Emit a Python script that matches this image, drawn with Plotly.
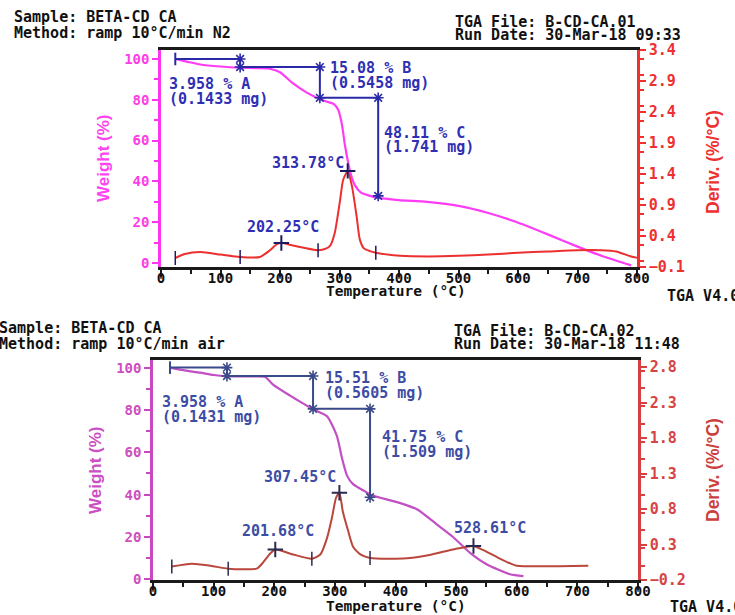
import numpy as np
import plotly.graph_objects as go

# ---------------- data: run 1 (N2) ----------------
top_T = [24, 45, 66, 100, 133, 160, 183, 200, 222, 245, 262, 279, 290, 298, 304, 309, 314,
         319, 326, 336, 350, 363, 400, 447, 500, 550, 595, 650, 700, 745, 790]
top_W = [100, 98.6, 97.3, 96.3, 95.7, 95.5, 95.2, 93.5, 88, 83.5, 81, 79, 78, 75, 68, 58, 50,
         43.5, 38, 34.5, 33, 32, 30.8, 29.9, 28, 24.5, 20.3, 14, 8, 3, -1.2]
top_dT = [24, 40, 66, 100, 133, 166, 183, 195, 203, 220, 240, 264, 278, 284, 292, 301, 306,
          313.78, 321, 329, 334, 341, 350, 361, 402, 450, 500, 550, 600, 650, 700, 740, 765, 790, 800]
top_D = [0.045, 0.11, 0.14, 0.1, 0.06, 0.06, 0.17, 0.27, 0.29, 0.25, 0.21, 0.17, 0.2, 0.24, 0.45,
         0.98, 1.3, 1.45, 1.2, 0.7, 0.35, 0.2, 0.16, 0.13, 0.08, 0.07, 0.08, 0.1, 0.13, 0.15, 0.17,
         0.17, 0.15, 0.07, 0.05]
top_limits_T = [24, 133, 264, 361]
top_peaks_T = [202.25, 313.78]
top_step_T = [24, 133, 267, 365]
top_step_loss = [3.958, 15.08, 48.11]
top_step_mg = [0.1433, 0.5458, 1.741]
top_step_names = ["A", "B", "C"]

# ---------------- data: run 2 (air) ----------------
bot_T = [28, 50, 78, 100, 122, 160, 185, 198, 226, 254, 264, 287, 303, 312, 320, 330, 353,
         358, 408, 436, 468, 495, 523, 551, 589, 611]
bot_W = [100, 98.8, 97.6, 96.5, 95.9, 95.8, 95.6, 92, 86.8, 82, 80.3, 77, 68, 57, 49, 45, 41,
         40, 36, 33, 26, 20, 12.5, 7, 2.4, 1.5]
bot_dT = [31, 64, 95, 124, 171, 181, 193, 201.68, 231, 262, 276, 287, 295, 302, 307.45, 313,
          322, 330, 342, 358, 400, 424, 460, 495, 528.61, 545, 568, 590, 600, 718]
bot_D = [-0.01, 0.03, 0.0, -0.04, -0.04, 0.04, 0.17, 0.23, 0.16, 0.1, 0.16, 0.39, 0.67, 0.96,
         1.03, 0.77, 0.49, 0.27, 0.16, 0.11, 0.1, 0.11, 0.16, 0.23, 0.28, 0.22, 0.12, 0.03, 0.0, 0.0]
bot_limits_T = [31, 124, 262, 358]
bot_peaks_T = [201.68, 307.45, 528.61]
bot_step_T = [28, 122, 264, 358]
bot_step_loss = [3.958, 15.51, 41.75]
bot_step_mg = [0.1431, 0.5605, 1.509]
bot_step_names = ["A", "B", "C"]

x_ticks = [0, 100, 200, 300, 400, 500, 600, 700, 800]
top_right_ticks = [-0.1, 0.4, 0.9, 1.4, 1.9, 2.4, 2.9, 3.4]
bot_right_ticks = [-0.2, 0.3, 0.8, 1.3, 1.8, 2.3, 2.8]
left_ticks = [0, 20, 40, 60, 80, 100]

W, H = 735, 615
MONO = "DejaVu Sans Mono"


def px(x):
    return x / W


def py(y):
    return 1 - y / H


fig = go.Figure()


def add_panel(xa, ya, ya2, T, Wt, dT, D, limits, peaks, stepT, loss,
              wcol, dcol, bcol, mcol):
    xs, ys = "x" + ("" if xa == 1 else str(xa)), "y" + ("" if ya == 1 else str(ya))
    ys2 = "y" + str(ya2)
    fig.add_trace(go.Scatter(x=T, y=Wt, mode="lines", line=dict(color=wcol, width=2.2, shape="spline", smoothing=0.6),
                             xaxis=xs, yaxis=ys, showlegend=False, hoverinfo="skip"))
    fig.add_trace(go.Scatter(x=dT, y=D, mode="lines", line=dict(color=dcol, width=2, shape="spline", smoothing=0.6),
                             xaxis=xs, yaxis=ys2, showlegend=False, hoverinfo="skip"))
    lim_D = np.interp(limits, dT, D)
    fig.add_trace(go.Scatter(x=limits, y=lim_D, mode="markers",
                             marker=dict(symbol="line-ns", size=10, color=mcol, line=dict(color=mcol, width=1.5)),
                             xaxis=xs, yaxis=ys2, showlegend=False, hoverinfo="skip"))
    pk_D = np.interp(peaks, dT, D)
    fig.add_trace(go.Scatter(x=peaks, y=pk_D, mode="markers",
                             marker=dict(symbol="cross-thin", size=11, color=mcol, line=dict(color=mcol, width=2)),
                             xaxis=xs, yaxis=ys2, showlegend=False, hoverinfo="skip"))
    # step-analysis brackets
    levels = [100]
    for l in loss:
        levels.append(levels[-1] - l)
    bx, by = [stepT[0]], [levels[0]]
    for i in range(1, len(stepT)):
        bx += [stepT[i], stepT[i]]
        by += [levels[i - 1], levels[i]]
    fig.add_trace(go.Scatter(x=bx, y=by, mode="lines", line=dict(color=bcol, width=2),
                             xaxis=xs, yaxis=ys, showlegend=False, hoverinfo="skip"))
    fig.add_trace(go.Scatter(x=bx[:1], y=by[:1], mode="markers",
                             marker=dict(symbol="line-ns", size=9, color=bcol, line=dict(color=bcol, width=2)),
                             xaxis=xs, yaxis=ys, showlegend=False, hoverinfo="skip"))
    fig.add_trace(go.Scatter(x=bx[1:], y=by[1:], mode="markers",
                             marker=dict(symbol="asterisk-open", size=9, color=bcol, line=dict(color=bcol, width=1.6)),
                             xaxis=xs, yaxis=ys, showlegend=False, hoverinfo="skip"))


add_panel(1, 1, 2, top_T, top_W, top_dT, top_D, top_limits_T, top_peaks_T, top_step_T, top_step_loss,
          "#ff3cf5", "#ec2f2f", "#2a2aa8", "#1a1a60")
add_panel(2, 3, 4, bot_T, bot_W, bot_dT, bot_D, bot_limits_T, bot_peaks_T, bot_step_T, bot_step_loss,
          "#c24fc4", "#b9473c", "#3a4a8a", "#2a2a50")

tickfont_x = dict(family=MONO, size=14, color="#111111", weight="bold")


def xaxis_cfg(domain, anchor):
    return dict(domain=domain, anchor=anchor, range=[0, 800], tickvals=x_ticks,
                showline=True, linecolor="#1a1a1a", linewidth=2.5, mirror=True,
                ticks="outside", ticklen=7, tickwidth=2, tickcolor="#1a1a1a",
                ticklabelstandoff=-11,
                minor=dict(dtick=50, ticks="outside", ticklen=4, tickcolor="#1a1a1a", tickwidth=1.5),
                showgrid=False, zeroline=False, tickfont=tickfont_x, fixedrange=True,
                automargin=False)


def yleft_cfg(domain, anchor, rng, col, fcol):
    return dict(domain=domain, anchor=anchor, range=rng, tickvals=left_ticks,
                showline=True, linecolor=col, linewidth=2.5, ticks="outside", ticklen=6,
                tickwidth=2, tickcolor=col, automargin=False,
                minor=dict(dtick=10, ticks="outside", ticklen=4, tickcolor=col, tickwidth=1.5),
                showgrid=False, zeroline=False,
                tickfont=dict(family=MONO, size=14, color=fcol, weight="bold"))


def yright_cfg(overlay, anchor, rng, ticks, col, fcol):
    return dict(overlaying=overlay, anchor=anchor, side="right", range=rng, tickvals=ticks,
                showline=True, linecolor=col, linewidth=2.5, ticks="outside", ticklen=6,
                tickwidth=2, tickcolor=col, automargin=False,
                minor=dict(dtick=0.25, ticks="outside", ticklen=4, tickcolor=col, tickwidth=1.5),
                showgrid=False, zeroline=False,
                tickfont=dict(family=MONO, size=15, color=fcol, weight="bold"))


top_xd = [px(161), px(637)]
top_yd = [py(267), py(50)]
bot_xd = [px(153), px(638)]
bot_yd = [py(580), py(360)]

fig.update_layout(
    width=W, height=H, margin=dict(l=0, r=0, t=0, b=0, pad=0, autoexpand=False),
    paper_bgcolor="white", plot_bgcolor="white", showlegend=False,
    xaxis=xaxis_cfg(top_xd, "y"),
    yaxis=yleft_cfg(top_yd, "x", [-2, 104.4], "#ff33f2", "#ff3ce6"),
    yaxis2=yright_cfg("y", "x", [-0.1, 3.4], top_right_ticks, "#ee3030", "#ee3030"),
    xaxis2=xaxis_cfg(bot_xd, "y3"),
    yaxis3=yleft_cfg(bot_yd, "x2", [-0.3, 103.6], "#c848c0", "#cc4fbf"),
    yaxis4=yright_cfg("y3", "x2", [-0.2, 2.9], bot_right_ticks, "#d64040", "#d64343"),
)

ann = []


def txt(x, y, s, color="#111111", size=15, xanchor="left", angle=0, family=MONO):
    ann.append(dict(x=px(x), y=py(y), xref="paper", yref="paper", text=s, showarrow=False,
                    xanchor=xanchor, yanchor="middle", textangle=angle,
                    font=dict(family=family, size=size, color=color, weight="bold")))


# header texts
txt(12, 17, "Sample: BETA-CD CA")
txt(12, 33, "Method: ramp 10°C/min N2")
txt(453, 22, "TGA File: B-CD-CA.01")
txt(453, 35, "Run Date: 30-Mar-18 09:33")
txt(665, 296, "TGA V4.0")
txt(-3, 328, "Sample: BETA-CD CA")
txt(-3, 344, "Method: ramp 10°C/min air")
txt(452, 331, "TGA File: B-CD-CA.02")
txt(452, 344, "Run Date: 30-Mar-18 11:48")
txt(668, 607, "TGA V4.0")

# axis titles
txt(396, 291, "Temperature (°C)", size=14.5, xanchor="center")
txt(396, 606, "Temperature (°C)", size=14.5, xanchor="center")
NARROW = "Liberation Sans Narrow, Liberation Sans"
txt(104, 158, "Weight (%)", color="#ff44f0", size=17, xanchor="center", angle=-90, family=NARROW)
txt(713, 162, "Deriv. (%/°C)", color="#ee3030", size=17.5, xanchor="center", angle=-90, family=NARROW)
txt(95, 470, "Weight (%)", color="#cc4fc4", size=17, xanchor="center", angle=-90, family=NARROW)
txt(713, 470, "Deriv. (%/°C)", color="#cc3f3f", size=17.5, xanchor="center", angle=-90, family=NARROW)

# step / peak labels
BLUE1 = "#2f2fb4"
BLUE2 = "#3d4ca4"
txt(167, 84, "%.3f %% %s" % (top_step_loss[0], top_step_names[0]), BLUE1)
txt(167, 99, "(%.4f mg)" % top_step_mg[0], BLUE1)
txt(328, 68, "%.2f %% %s" % (top_step_loss[1], top_step_names[1]), BLUE1)
txt(328, 83, "(%.4f mg)" % top_step_mg[1], BLUE1)
txt(382, 133, "%.2f %% %s" % (top_step_loss[2], top_step_names[2]), BLUE1)
txt(382, 147, "(%.3f mg)" % top_step_mg[2], BLUE1)
txt(270, 163, "%.2f°C" % top_peaks_T[1], BLUE1)
txt(245, 227, "%.2f°C" % top_peaks_T[0], BLUE1)

txt(160, 402, "%.3f %% %s" % (bot_step_loss[0], bot_step_names[0]), BLUE2)
txt(160, 417, "(%.4f mg)" % bot_step_mg[0], BLUE2)
txt(323, 378, "%.2f %% %s" % (bot_step_loss[1], bot_step_names[1]), BLUE2)
txt(323, 393, "(%.4f mg)" % bot_step_mg[1], BLUE2)
txt(380, 437, "%.2f %% %s" % (bot_step_loss[2], bot_step_names[2]), BLUE2)
txt(380, 452, "(%.3f mg)" % bot_step_mg[2], BLUE2)
txt(262, 477, "%.2f°C" % bot_peaks_T[1], BLUE2)
txt(240, 531, "%.2f°C" % bot_peaks_T[0], BLUE2)
txt(452, 528, "%.2f°C" % bot_peaks_T[2], BLUE2)

fig.update_layout(annotations=ann)
fig.write_html("out.html")
